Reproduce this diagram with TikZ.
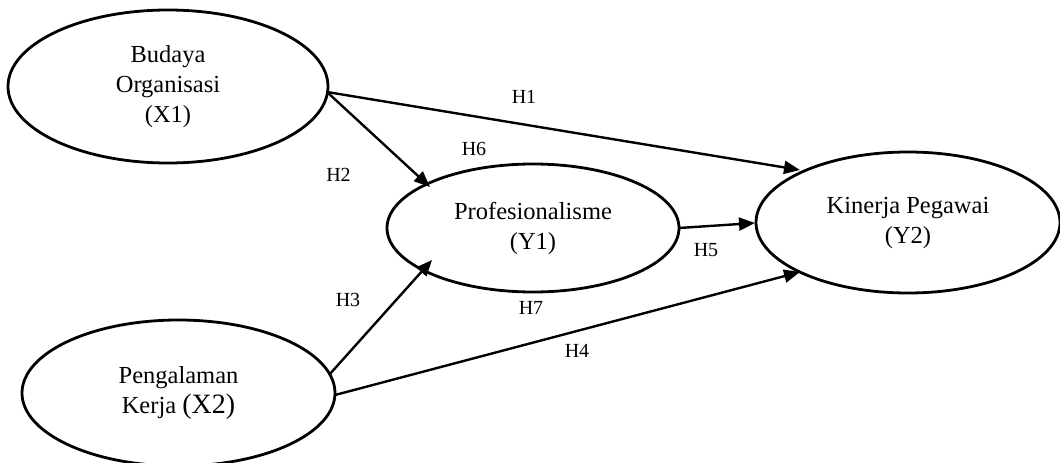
\documentclass[tikz,border=0pt]{standalone}
\usepackage{fontspec}
\setmainfont{Liberation Serif}
\usetikzlibrary{arrows.meta,shapes.geometric,calc}
\begin{document}
\begin{tikzpicture}[x=1pt,y=-1pt,
  var/.style={ellipse,draw,line width=2.8pt,inner sep=0pt,outer sep=0pt,align=center,font=\fontsize{24.5}{30}\selectfont},
  arr/.style={line width=2.4pt,-{Triangle[length=16pt,width=13pt]}},
  hyp/.style={font=\fontsize{20}{22}\selectfont,inner sep=0pt}]
\clip (0,0) rectangle (1060,463);
\node[var,minimum width=320pt,minimum height=153pt] (X1) at (168,86.5) {Budaya\\Organisasi\\(X1)};
\node[var,minimum width=313pt,minimum height=146pt] (X2) at (178.5,393) {Pengalaman\\Kerja {\fontsize{28}{30}\selectfont(X2)}};
\node[var,minimum width=292pt,minimum height=128pt] (Y1) at (533,228) {Profesionalisme\\(Y1)};
\node[var,minimum width=304pt,minimum height=141pt] (Y2) at (908,222.5) {Kinerja Pegawai\\(Y2)};
\coordinate (s1) at ($(X1)+(159,5.5)$);
\draw[arr] (s1) -- ($(Y2)+(-108,-52.5)$);
\draw[arr] (s1) -- ($(Y1)+(-103,-41)$);
\draw[arr] ($(X2)+(150.5,-18)$) -- ($(Y1)+(-101,32)$);
\draw[arr] ($(X2)+(156.5,2)$) -- ($(Y2)+(-108,49.5)$);
\draw[arr] ($(Y1)+(146,0)$) -- ($(Y2)+(-153,0.5)$);
\node[hyp] (h1) at (524,97) {H1};
\node[hyp] (h6) at (474,149) {H6};
\node[hyp] (h2) at (338.5,174.5) {H2};
\node[hyp] (h3) at (348,300) {H3};
\node[hyp] (h7) at (531,308) {H7};
\node[hyp] (h5) at (706,250) {H5};
\node[hyp] (h4) at (577,351) {H4};
\end{tikzpicture}
\end{document}
